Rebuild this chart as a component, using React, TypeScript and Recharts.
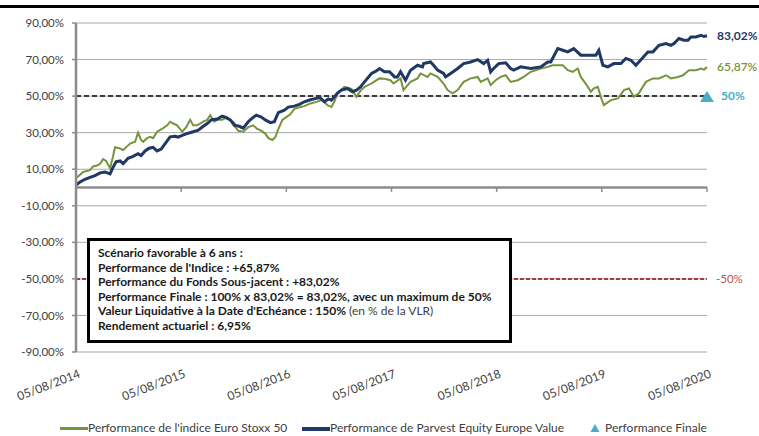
import React from 'react';
import {
  ComposedChart,
  Line,
  Scatter,
  XAxis,
  YAxis,
  CartesianGrid,
  ReferenceLine,
  ReferenceDot,
} from 'recharts';

// ---- data ----
const xTicks = [0, 1, 2, 3, 4, 5, 6];
const xTickLabels = ['05/08/2014', '05/08/2015', '05/08/2016', '05/08/2017', '05/08/2018', '05/08/2019', '05/08/2020'];
const yTicks = [-90, -70, -50, -30, -10, 10, 30, 50, 70, 90];

const indexName = "Performance de l'indice Euro Stoxx 50";
const fundName = 'Performance de Parvest Equity Europe Value';
const finalName = 'Performance Finale';

// years since 05/08/2014
const indexT = [0, 0.038, 0.067, 0.133, 0.162, 0.2, 0.229, 0.257, 0.286, 0.324, 0.352, 0.371, 0.41, 0.448, 0.486, 0.514, 0.562, 0.59, 0.619, 0.638, 0.676, 0.705, 0.733, 0.771, 0.829, 0.867, 0.895, 0.924, 0.962, 0.99, 1.01, 1.048, 1.086, 1.114, 1.152, 1.21, 1.248, 1.276, 1.314, 1.343, 1.39, 1.438, 1.467, 1.495, 1.524, 1.543, 1.59, 1.638, 1.686, 1.724, 1.752, 1.8, 1.829, 1.867, 1.895, 1.924, 1.962, 2.0, 2.038, 2.076, 2.133, 2.171, 2.229, 2.295, 2.343, 2.39, 2.429, 2.457, 2.486, 2.552, 2.619, 2.667, 2.705, 2.743, 2.81, 2.886, 2.933, 2.99, 3.019, 3.086, 3.114, 3.181, 3.248, 3.276, 3.343, 3.371, 3.438, 3.495, 3.533, 3.581, 3.629, 3.686, 3.752, 3.819, 3.848, 3.914, 3.943, 3.99, 4.038, 4.086, 4.133, 4.2, 4.257, 4.324, 4.419, 4.486, 4.533, 4.581, 4.629, 4.676, 4.724, 4.771, 4.8, 4.867, 4.895, 4.924, 4.962, 4.99, 5.019, 5.086, 5.152, 5.21, 5.257, 5.305, 5.352, 5.419, 5.486, 5.543, 5.61, 5.657, 5.724, 5.771, 5.829, 5.895, 5.943, 5.971, 6];
const indexV = [5, 7, 8.5, 9.5, 11.5, 12, 13, 15.5, 14.5, 10.6, 17, 22, 21.5, 20.5, 22.5, 24, 25, 30, 26, 25, 27, 27.7, 27, 30.5, 32.5, 34, 36, 35, 34, 32, 30.5, 33, 37, 34, 34, 36, 37, 39.6, 36, 37, 37, 38.5, 37, 34, 32.5, 31, 30.5, 33, 34, 32, 31.4, 29.5, 27, 26, 27.5, 32, 37, 38.5, 40, 43, 44, 44.5, 46, 47, 48, 45, 44, 47, 51.5, 55, 54, 49.6, 53, 55, 57, 59.7, 59.5, 58.7, 56.9, 59.7, 53.3, 57.8, 59.7, 62.4, 60.5, 62.4, 60.5, 56.9, 53.3, 51.5, 53.3, 57.8, 59.7, 60.5, 57.8, 59.7, 56, 58.7, 60.5, 61.4, 57.8, 58.7, 60.5, 63.3, 65.1, 66, 66.9, 66.9, 66.9, 64.2, 63.3, 65.1, 60.5, 55.1, 52.4, 54.2, 55.1, 49.6, 45.1, 47.8, 48.7, 53.3, 54.2, 49.6, 51.5, 57.8, 59.7, 59.7, 61.4, 59.7, 60.5, 61.4, 64.2, 64.2, 65.1, 64.5, 65.87];

const fundT = [0, 0.038, 0.086, 0.133, 0.181, 0.229, 0.276, 0.324, 0.352, 0.381, 0.419, 0.448, 0.495, 0.543, 0.59, 0.619, 0.657, 0.695, 0.733, 0.771, 0.81, 0.848, 0.895, 0.943, 0.971, 1.01, 1.067, 1.114, 1.162, 1.21, 1.248, 1.286, 1.343, 1.39, 1.419, 1.467, 1.514, 1.552, 1.59, 1.638, 1.676, 1.714, 1.762, 1.8, 1.848, 1.886, 1.924, 1.981, 2.019, 2.076, 2.124, 2.171, 2.229, 2.295, 2.324, 2.362, 2.4, 2.429, 2.457, 2.486, 2.524, 2.581, 2.629, 2.667, 2.705, 2.743, 2.81, 2.848, 2.886, 2.933, 2.981, 3.029, 3.057, 3.086, 3.133, 3.181, 3.248, 3.295, 3.305, 3.371, 3.4, 3.438, 3.495, 3.514, 3.562, 3.629, 3.686, 3.752, 3.819, 3.876, 3.914, 3.943, 3.971, 4.019, 4.086, 4.133, 4.162, 4.229, 4.324, 4.419, 4.486, 4.514, 4.581, 4.629, 4.676, 4.733, 4.8, 4.867, 4.943, 4.971, 5.01, 5.057, 5.114, 5.181, 5.229, 5.276, 5.324, 5.352, 5.438, 5.486, 5.543, 5.61, 5.657, 5.686, 5.733, 5.781, 5.819, 5.848, 5.895, 5.943, 5.971, 6];
const fundV = [1.4, 3, 4.5, 5.5, 6.5, 8, 8.5, 7.5, 11, 14, 14.5, 13, 16, 17, 18.5, 17.5, 20, 21.5, 22, 20, 21, 24, 27.7, 28, 27.6, 28.5, 29.7, 30.5, 31.4, 33.5, 35, 37, 37.5, 39, 38.5, 37, 34, 33.5, 32.5, 36, 38, 39.6, 38.5, 37, 35.5, 36, 41, 42.3, 44, 44.5, 45.5, 46.9, 48, 48.9, 49, 46.9, 48.5, 47.8, 49.6, 51.6, 53.3, 54.2, 52.4, 53.3, 55, 57.8, 62.4, 63.5, 65.1, 63.3, 63.3, 60.5, 60.5, 63.3, 58.7, 64.2, 66.9, 66, 67.8, 68.7, 66.9, 64.2, 62.4, 60.5, 62.4, 65.1, 67.8, 68.7, 70, 67.8, 69.6, 63.3, 65.1, 67.8, 68.2, 65.1, 64.2, 66, 65.1, 66, 68.7, 68.7, 76, 75.1, 74.2, 76, 72.4, 72.4, 72.4, 75.1, 66.9, 66, 67.8, 67.8, 70.6, 69.6, 66.9, 68.7, 74.2, 74.2, 77.8, 78.8, 77.8, 78.8, 81.5, 80.6, 80.6, 82.4, 82.4, 83.3, 82.6, 83.02];

const finalT = [6];
const finalV = [50];
const barrier = -50;

const scenarioTitle = 'Scénario favorable à 6 ans :';
const scenarioLines = [
  { bold: "Performance de l'Indice : +65,87%", normal: '' },
  { bold: 'Performance du Fonds Sous-jacent : +83,02%', normal: '' },
  { bold: 'Performance Finale : 100% x 83,02% = 83,02%, avec un maximum de 50%', normal: '' },
  { bold: "Valeur Liquidative à la Date d'Echéance : 150%", normal: ' (en % de la VLR)' },
  { bold: 'Rendement actuariel : 6,95%', normal: '' },
];

// ---- build series ----
const indexData = indexT.map((t, i) => ({ t, v: indexV[i] }));
const fundData = fundT.map((t, i) => ({ t, v: fundV[i] }));
const finalData = finalT.map((t, i) => ({ t, v: finalV[i] }));

const GREEN = '#77933c';
const NAVY = '#1f3864';
const TEAL = '#4bacc6';
const RED = '#c0504d';
const AXIS = '#8c8c8c';
const GRID = '#a9a9a9';
const TXT = '#404040';
const FONT = 'Lato, "Open Sans", sans-serif';

const fmtTick = (v: number) => v.toFixed(2).replace('.', ',') + '%';
const fmtPct = (v: number) => (Number.isInteger(v) ? String(v) : v.toFixed(2).replace('.', ',')) + '%';

const XTick = (props: any) => {
  const { x, y, payload } = props;
  const idx = xTicks.indexOf(payload.value);
  return (
    <g transform={`translate(${x + 5},${y + 25}) rotate(-21)`}>
      <text x={0} y={0} textAnchor="end" fill={TXT} fontSize={12} fontFamily={FONT}>
        {xTickLabels[idx]}
      </text>
    </g>
  );
};

const Triangle = (props: any) => {
  const { cx, cy } = props;
  return <path d={`M${cx},${cy - 5} L${cx + 7},${cy + 6} L${cx - 7},${cy + 6} Z`} fill={TEAL} />;
};

const lastIdx = indexV.length - 1;
const lastFund = fundV[fundV.length - 1];
const lastIndex = indexV[lastIdx];

export default function App() {
  return (
    <div style={{ position: 'absolute', left: 0, top: 0, width: 759, height: 436, background: '#fff', overflow: 'hidden', fontFamily: FONT }}>
      <div style={{ position: 'absolute', left: 0, top: 5, width: 759, height: 2.5, background: '#000' }} />
      <ComposedChart width={759} height={436} margin={{ top: 23, right: 52, bottom: 24, left: 0 }}>
        <CartesianGrid horizontal vertical={false} stroke={GRID} strokeWidth={1} />
        <XAxis
          dataKey="t"
          type="number"
          domain={[0, 6]}
          ticks={xTicks}
          axisLine={false}
          tickLine={false}
          tickSize={0}
          tickMargin={0}
          height={60}
          tick={<XTick />}
          interval={0}
        />
        <YAxis
          type="number"
          domain={[-90, 90]}
          ticks={yTicks}
          width={76}
          interval={0}
          tickFormatter={fmtTick}
          axisLine={{ stroke: AXIS, strokeWidth: 2.5 }}
          tickLine={{ stroke: AXIS, strokeWidth: 1.5 }}
          tickSize={4}
          tickMargin={8}
          tick={{ fill: TXT, fontSize: 11.5, fontFamily: FONT }}
        />
        <ReferenceLine y={0} stroke={AXIS} strokeWidth={2.5} />
        {xTicks.map((t) => (
          <ReferenceLine
            key={'tk' + t}
            segment={[{ x: t, y: 0 }, { x: t, y: -2.4 }]}
            stroke={AXIS}
            strokeWidth={1.5}
          />
        ))}
        <ReferenceLine y={finalV[0]} stroke="#3a3a3a" strokeWidth={2} strokeDasharray="5 3" />
        <ReferenceLine
          y={barrier}
          stroke="#a0403c"
          strokeWidth={2}
          strokeDasharray="4 2"
          label={{ value: fmtPct(barrier), position: 'right', offset: 9, fill: RED, fontSize: 11.5, fontFamily: FONT }}
        />
        <Line
          data={indexData}
          dataKey="v"
          name={indexName}
          stroke={GREEN}
          strokeWidth={2}
          dot={false}
          isAnimationActive={false}
        />
        <Line
          data={fundData}
          dataKey="v"
          name={fundName}
          stroke={NAVY}
          strokeWidth={3}
          dot={false}
          isAnimationActive={false}
        />
        <Scatter data={finalData} dataKey="v" name={finalName} shape={<Triangle />} isAnimationActive={false} />
        <ReferenceDot
          x={fundT[fundT.length - 1]}
          y={lastFund}
          r={0}
          stroke="none"
          fill="none"
          label={{ value: fmtPct(lastFund), position: 'right', offset: 10, fill: NAVY, fontSize: 12, fontWeight: 700, fontFamily: FONT }}
        />
        <ReferenceDot
          x={indexT[lastIdx]}
          y={lastIndex}
          r={0}
          stroke="none"
          fill="none"
          label={{ value: fmtPct(lastIndex), position: 'right', offset: 10, fill: GREEN, fontSize: 12, fontWeight: 600, fontFamily: FONT }}
        />
        <ReferenceDot
          x={finalT[0]}
          y={finalV[0]}
          r={0}
          stroke="none"
          fill="none"
          label={{ value: fmtPct(finalV[0]), position: 'right', offset: 14, fill: TEAL, fontSize: 12, fontWeight: 700, fontFamily: FONT }}
        />
      </ComposedChart>

      <div
        style={{
          position: 'absolute',
          left: 87,
          top: 238,
          width: 425,
          height: 105,
          boxSizing: 'border-box',
          border: '3px solid #000',
          background: '#fff',
          padding: '5px 0 0 8px',
          fontSize: 12,
          lineHeight: '14.6px',
          color: '#1a1a1a',
          fontFamily: FONT,
          whiteSpace: 'nowrap',
        }}
      >
        <div style={{ fontWeight: 700 }}>{scenarioTitle}</div>
        {scenarioLines.map((l, i) => (
          <div key={i}>
            <span style={{ fontWeight: 700 }}>{l.bold}</span>
            {l.normal && <span style={{ fontWeight: 400, color: TXT }}>{l.normal}</span>}
          </div>
        ))}
      </div>

      <div style={{ position: 'absolute', top: 420, left: 0, width: 759, height: 16, fontSize: 12, color: TXT, fontFamily: FONT, whiteSpace: 'nowrap' }}>
        <div style={{ position: 'absolute', left: 60, top: 7, width: 28, height: 3, background: GREEN }} />
        <div style={{ position: 'absolute', left: 88, top: 0, lineHeight: '15px' }}>{indexName}</div>
        <div style={{ position: 'absolute', left: 302, top: 6.5, width: 28, height: 4, background: NAVY }} />
        <div style={{ position: 'absolute', left: 330, top: 0, lineHeight: '15px' }}>{fundName}</div>
        <svg style={{ position: 'absolute', left: 590, top: 3 }} width={10} height={10}>
          <path d="M5,1 L9.5,9 L0.5,9 Z" fill={TEAL} />
        </svg>
        <div style={{ position: 'absolute', left: 605, top: 0, lineHeight: '15px' }}>{finalName}</div>
      </div>
    </div>
  );
}
